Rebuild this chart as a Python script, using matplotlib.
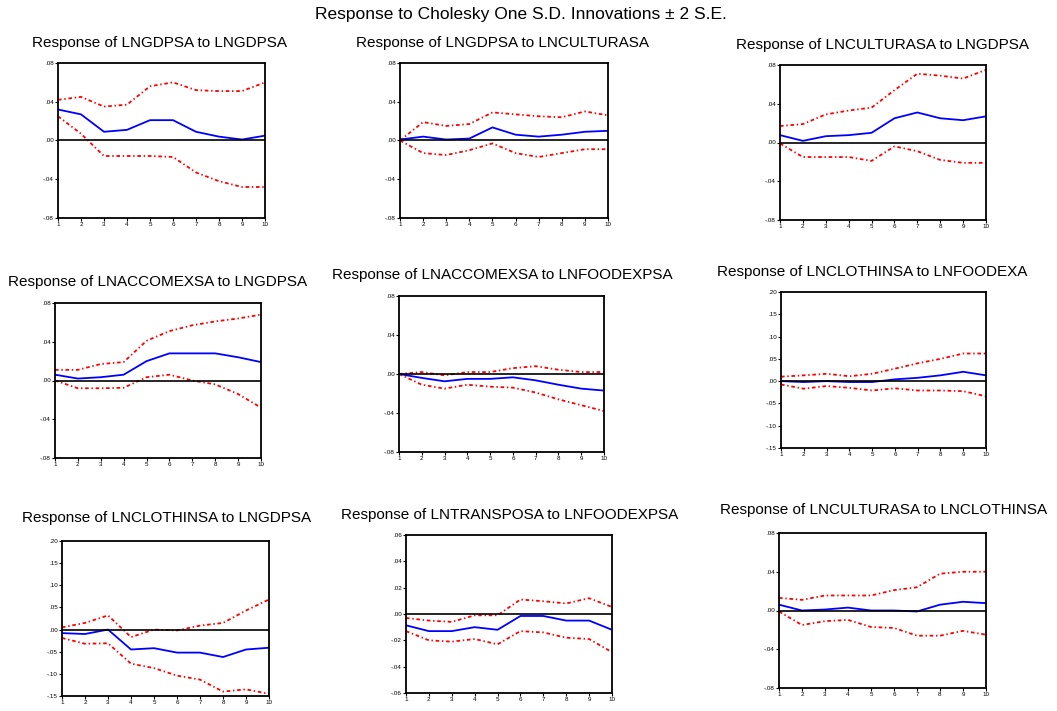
import numpy as np
import matplotlib.pyplot as plt

plt.rcParams['font.family'] = ['Liberation Sans', 'DejaVu Sans']

periods = np.arange(1, 11)

titles = [
    "Response of LNGDPSA to LNGDPSA",
    "Response of LNGDPSA to LNCULTURASA",
    "Response of LNCULTURASA to LNGDPSA",
    "Response of LNACCOMEXSA to LNGDPSA",
    "Response of LNACCOMEXSA to LNFOODEXPSA",
    "Response of LNCLOTHINSA to LNFOODEXA",
    "Response of LNCLOTHINSA to LNGDPSA",
    "Response of LNTRANSPOSA to LNFOODEXPSA",
    "Response of LNCULTURASA to LNCLOTHINSA",
]

# impulse responses (blue) and +/- 2 S.E. bands (red)
resp1 = [0.032, 0.027, 0.009, 0.011, 0.021, 0.021, 0.009, 0.004, 0.001, 0.005]
up1 = [0.042, 0.045, 0.035, 0.037, 0.056, 0.060, 0.052, 0.051, 0.051, 0.060]
lo1 = [0.025, 0.007, -0.016, -0.016, -0.016, -0.017, -0.033, -0.042, -0.048, -0.048]

resp2 = [0.001, 0.004, 0.001, 0.002, 0.0135, 0.006, 0.004, 0.006, 0.009, 0.010]
up2 = [0.0, 0.019, 0.015, 0.017, 0.029, 0.027, 0.025, 0.024, 0.030, 0.026]
lo2 = [0.0, -0.013, -0.015, -0.010, -0.003, -0.013, -0.017, -0.013, -0.009, -0.009]

resp3 = [0.0076, 0.0017, 0.0065, 0.0076, 0.010, 0.025, 0.031, 0.025, 0.023, 0.027]
up3 = [0.017, 0.019, 0.029, 0.033, 0.036, 0.054, 0.071, 0.069, 0.066, 0.075]
lo3 = [-0.001, -0.015, -0.015, -0.015, -0.019, -0.004, -0.009, -0.018, -0.021, -0.021]

resp4 = [0.006, 0.002, 0.0034, 0.006, 0.020, 0.028, 0.028, 0.028, 0.024, 0.019]
up4 = [0.011, 0.011, 0.017, 0.019, 0.041, 0.051, 0.057, 0.061, 0.064, 0.068]
lo4 = [0.0, -0.008, -0.008, -0.0075, 0.0034, 0.006, 0.0, -0.004, -0.014, -0.028]

resp5 = [0.0, -0.004, -0.0075, -0.005, -0.005, -0.0034, -0.0065, -0.011, -0.015, -0.017]
up5 = [0.0, 0.002, -0.0014, 0.002, 0.002, 0.006, 0.008, 0.0044, 0.002, 0.002]
lo5 = [0.0, -0.011, -0.015, -0.011, -0.013, -0.014, -0.019, -0.026, -0.032, -0.038]

resp6 = [0.0, -0.002, 0.0, -0.002, -0.002, 0.004, 0.0075, 0.013, 0.021, 0.013]
up6 = [0.010, 0.013, 0.0165, 0.011, 0.0165, 0.028, 0.040, 0.050, 0.062, 0.062]
lo6 = [-0.0075, -0.017, -0.011, -0.015, -0.021, -0.016, -0.021, -0.021, -0.0225, -0.034]

resp7 = [-0.008, -0.010, 0.0, -0.045, -0.042, -0.052, -0.052, -0.062, -0.045, -0.041]
up7 = [0.005, 0.015, 0.032, -0.017, 0.0, -0.002, 0.009, 0.015, 0.043, 0.068]
lo7 = [-0.019, -0.032, -0.031, -0.077, -0.087, -0.104, -0.113, -0.140, -0.135, -0.145]

resp8 = [-0.0086, -0.013, -0.013, -0.010, -0.012, -0.0015, -0.0015, -0.005, -0.005, -0.012]
up8 = [-0.003, -0.005, -0.006, -0.001, -0.001, 0.011, 0.0097, 0.008, 0.012, 0.0053]
lo8 = [-0.013, -0.020, -0.021, -0.019, -0.023, -0.013, -0.014, -0.018, -0.019, -0.029]

resp9 = [0.006, 0.0, 0.001, 0.003, 0.0, 0.0, -0.001, 0.006, 0.009, 0.0076]
up9 = [0.013, 0.011, 0.0155, 0.0155, 0.0155, 0.021, 0.024, 0.038, 0.040, 0.040]
lo9 = [-0.001, -0.015, -0.011, -0.0097, -0.017, -0.018, -0.026, -0.026, -0.021, -0.025]

responses = [resp1, resp2, resp3, resp4, resp5, resp6, resp7, resp8, resp9]
uppers = [up1, up2, up3, up4, up5, up6, up7, up8, up9]
lowers = [lo1, lo2, lo3, lo4, lo5, lo6, lo7, lo8, lo9]

ticks_08 = [-0.08, -0.04, 0.0, 0.04, 0.08]
ticks_20 = [-0.15, -0.10, -0.05, 0.0, 0.05, 0.10, 0.15, 0.20]
ticks_06 = [-0.06, -0.04, -0.02, 0.0, 0.02, 0.04, 0.06]
yticks = [ticks_08, ticks_08, ticks_08, ticks_08, ticks_08, ticks_20, ticks_20, ticks_06, ticks_08]

W, H = 1057, 711
# pixel boxes: left, right, top, bottom
boxes = [
    (58, 265, 63, 218), (400, 608, 63, 218), (780, 986, 65, 220),
    (55, 261, 303, 458), (399, 604, 296, 452), (781, 986, 292, 448),
    (62, 269, 541, 696), (406, 612, 535, 693), (779, 986, 533, 688),
]
title_pos = [
    (160, 43), (503, 43), (883, 45),
    (158, 282), (502, 275), (872, 272),
    (167, 518), (510, 515), (884, 510),
]


def fmt(v):
    s = "%.2f" % v
    return s.replace("0.", ".", 1)


fig = plt.figure(figsize=(W / 100, H / 100), dpi=100)
fig.text(521 / W, 1 - 14 / H, "Response to Cholesky One S.D. Innovations \u00b1 2 S.E.",
         ha='center', va='center', fontsize=12.5)

for i in range(9):
    l, r, t, b = boxes[i]
    ax = fig.add_axes([l / W, 1 - b / H, (r - l) / W, (b - t) / H])
    ax.plot(periods, uppers[i], color='red', lw=1.3, linestyle=(0, (2, 1.5, 0.8, 1.5)))
    ax.plot(periods, lowers[i], color='red', lw=1.3, linestyle=(0, (2, 1.5, 0.8, 1.5)))
    ax.plot(periods, responses[i], color='blue', lw=1.3)
    ax.axhline(0, color='black', lw=1.2)
    ax.set_xlim(1, 10)
    yt = yticks[i]
    ax.set_ylim(yt[0], yt[-1])
    ax.set_yticks(yt)
    ax.set_yticklabels([fmt(v) for v in yt])
    ax.set_xticks(periods)
    ax.tick_params(labelsize=4.5, length=2, width=0.8, pad=1)
    for s in ax.spines.values():
        s.set_linewidth(1.3)
    x, y = title_pos[i]
    fig.text(x / W, 1 - y / H, titles[i], ha='center', va='center', fontsize=11)

fig.savefig("out.png", dpi=100)
